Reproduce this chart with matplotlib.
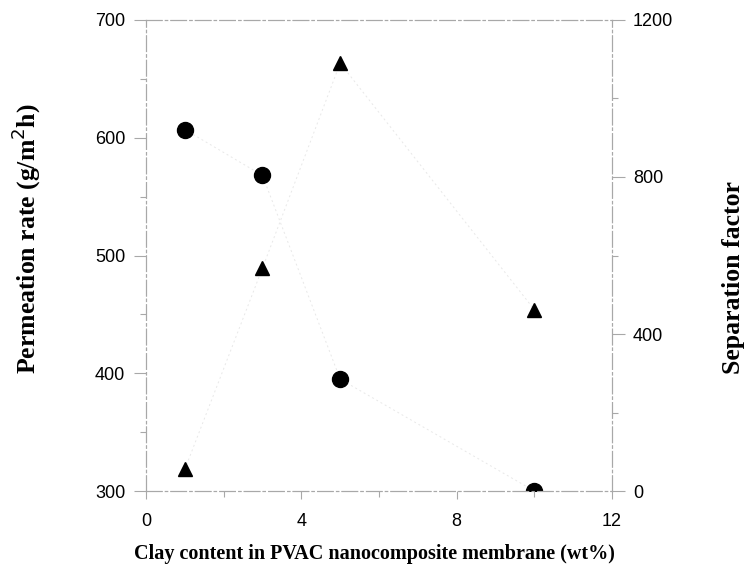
import numpy as np
import matplotlib.pyplot as plt

# clay loading (wt%) and measured pervaporation results
clay = [1, 3, 5, 10]
permeation = [607, 568, 395, 300]
separation = [55, 568, 1090, 462]

frame_col = "#a8a8a8"

fig = plt.figure(figsize=(7.44, 5.73), dpi=100)
ax = fig.add_axes([0.1962, 0.1431, 0.6264, 0.822])
ax2 = ax.twinx()

# faint connecting lines, markers on top
ax.plot(clay, permeation, color="#e8e8e8", lw=0.7, ls=(0, (2, 3)), zorder=1)
ax.plot(clay, permeation, "o", color="black", ms=11.5, zorder=3)
ax2.plot(clay, separation, color="#e8e8e8", lw=0.7, ls=(0, (2, 3)), zorder=1)
ax2.plot(clay, separation, "^", color="black", ms=10, zorder=3)

ax.set_xlim(0, 12)
ax.set_ylim(300, 700)
ax2.set_ylim(0, 1200)
ax.set_xticks([0, 4, 8, 12])
ax.set_xticks([2, 6, 10], minor=True)
ax.set_yticks([300, 400, 500, 600, 700])
ax.set_yticks([350, 450, 550, 650], minor=True)
ax2.set_yticks([0, 400, 800, 1200])
ax2.set_yticks([200, 600, 1000], minor=True)

for a in (ax, ax2):
    for s in a.spines.values():
        s.set_color(frame_col)
        s.set_linewidth(0.8)
        s.set_linestyle((0, (14, 3, 2, 3)))
    a.tick_params(which="both", direction="out", color=frame_col, width=0.8)
    a.tick_params(which="major", length=9, labelsize=13, pad=6)
    a.tick_params(which="minor", length=4)
    for lab in a.get_xticklabels() + a.get_yticklabels():
        lab.set_family("Liberation Sans")
ax.tick_params(axis="x", which="major", length=6, pad=10)

serif = dict(family="Liberation Serif", fontweight="bold")
ax.set_xlabel("Clay content in PVAC nanocomposite membrane (wt%)", fontsize=14.5, **serif)
ax.xaxis.set_label_coords(0.49, -0.134)
ax.xaxis.label.set_va("center")

ax.set_ylabel("Permeation rate (g/m$^2$h)", fontsize=18.5, **serif)
ax.yaxis.set_label_coords(-0.2575, 0.536)
ax.yaxis.label.set_va("center")

ax2.set_ylabel("Separation factor", fontsize=18.5, rotation=90, **serif)
ax2.yaxis.set_label_coords(1.2597, 0.4533)
ax2.yaxis.label.set_va("center")

fig.savefig("out.png", dpi=100)
